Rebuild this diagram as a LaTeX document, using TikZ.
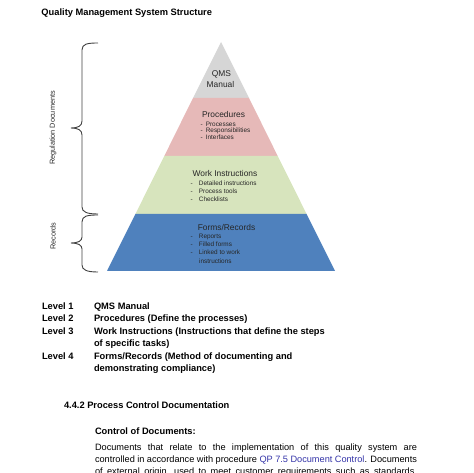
\documentclass[tikz,border=0pt]{standalone}
\usepackage{fontspec}
\setmainfont{Liberation Sans}
\definecolor{lvgray}{HTML}{D6D6D6}
\definecolor{lvpink}{HTML}{E6B9B8}
\definecolor{lvgreen}{HTML}{D7E4BD}
\definecolor{lvblue}{HTML}{4F81BD}
\definecolor{inktext}{HTML}{262626}
\definecolor{linkblue}{HTML}{3434A8}
\begin{document}
\begin{tikzpicture}[x=1pt,y=-1pt,
  every node/.style={inner sep=0pt,outer sep=0pt},
  doctext/.style={anchor=base west,font=\fontsize{9.3}{11}\selectfont\bfseries},
  paratext/.style={anchor=base west,font=\fontsize{9.2}{11}\selectfont},
  layerhead/.style={anchor=base,font=\fontsize{8.4}{10}\selectfont,text=inktext},
  bulletdash/.style={anchor=base west,font=\fontsize{6.4}{7}\selectfont,text=inktext},
  sidelabel/.style={rotate=90,font=\fontsize{7.3}{9}\selectfont,text=inktext},
  bracepath/.style={draw=black!75,line width=0.9pt}]
\useasboundingbox (0,0) rectangle (474,473);
\clip (0,0) rectangle (474,473);

% title
\node[doctext] (title) at (41.5,15.5) {Quality Management System Structure};

% pyramid layers
\fill[lvgray]  (221,42) -- (249,98) -- (193,98) -- cycle;
\fill[lvpink]  (193,98) -- (249,98) -- (277.7,156) -- (164.3,156) -- cycle;
\fill[lvgreen] (164.3,156) -- (277.7,156) -- (306.6,214) -- (135.4,214) -- cycle;
\fill[lvblue]  (135.4,214) -- (306.6,214) -- (335,271) -- (107,271) -- cycle;

% level 1
\node[layerhead] (qms) at (221.5,76.5) {QMS};
\node[layerhead] (manual) at (220.5,87.5) {Manual};
% level 2
\node[layerhead] (proc) at (223.5,118) {Procedures};
\node[bulletdash] (p1) at (200.5,126.2) {-\hspace{3.2pt}Processes};
\node[bulletdash] (p2) at (200.5,133) {-\hspace{3.2pt}Responsibilities};
\node[bulletdash] (p3) at (200.5,139.8) {-\hspace{3.2pt}Interfaces};
% level 3
\node[layerhead] (work) at (225,177) {Work Instructions};
\node[bulletdash] (w1) at (190.5,185.7) {-\hspace{6.3pt}Detailed instructions};
\node[bulletdash] (w2) at (190.5,193.5) {-\hspace{6.3pt}Process tools};
\node[bulletdash] (w3) at (190.5,201.2) {-\hspace{6.3pt}Checklists};
% level 4
\node[layerhead] (forms) at (226.5,230.3) {Forms/Records};
\node[bulletdash] (f1) at (190.5,238.4) {-\hspace{6.3pt}Reports};
\node[bulletdash] (f2) at (190.5,246.2) {-\hspace{6.3pt}Filled forms};
\node[bulletdash] (f3) at (190.5,254.2) {-\hspace{6.3pt}Linked to work};
\node[bulletdash] (f4) at (199.2,263) {instructions};

% braces
\draw[bracepath] (98,43) .. controls (87,43) and (82,44) .. (82,50) -- (82,121)
  .. controls (82,126) and (78,128) .. (71,128)
  .. controls (78,128) and (82,130) .. (82,135) -- (82,207)
  .. controls (82,212) and (87,214) .. (98,214);
\draw[bracepath] (98,215) .. controls (87,215) and (82,216) .. (82,222) -- (82,237)
  .. controls (82,241) and (78,243) .. (71,243)
  .. controls (78,243) and (82,245) .. (82,249) -- (82,265)
  .. controls (82,270) and (87,272) .. (98,272);
\node[sidelabel] (regdocs) at (53,128) {Regulation Documents};
\node[sidelabel] (records) at (53,236) {Records};

% level list
\node[doctext] (l1) at (42,309.5) {Level 1};
\node[doctext] (t1) at (94,309.5) {QMS Manual};
\node[doctext] (l2) at (42,321.8) {Level 2};
\node[doctext] (t2) at (94,321.8) {Procedures (Define the processes)};
\node[doctext] (l3) at (42,334.2) {Level 3};
\node[doctext] (t3) at (94,334.2) {Work Instructions (Instructions that define the steps};
\node[doctext] (t3b) at (94,346.6) {of specific tasks)};
\node[doctext] (l4) at (42,359) {Level 4};
\node[doctext] (t4) at (94,359) {Forms/Records (Method of documenting and};
\node[doctext] (t4b) at (94,371.4) {demonstrating compliance)};

% section
\node[doctext] (sec) at (64,408.5) {4.4.2 Process Control Documentation};
\node[doctext] (ctrl) at (95,434.5) {Control of Documents:};
\node[paratext] (para1) at (95,450.5) {\makebox[322pt][s]{Documents that relate to the implementation of this quality system are}};
\node[paratext] (para2) at (95,462.5) {\makebox[322pt][s]{controlled in accordance with procedure \textcolor{linkblue}{QP 7.5 Document Control}. Documents}};
\node[paratext] (para3) at (95,474.5) {\makebox[322pt][s]{of external origin, used to meet customer requirements such as standards,}};
\end{tikzpicture}
\end{document}
